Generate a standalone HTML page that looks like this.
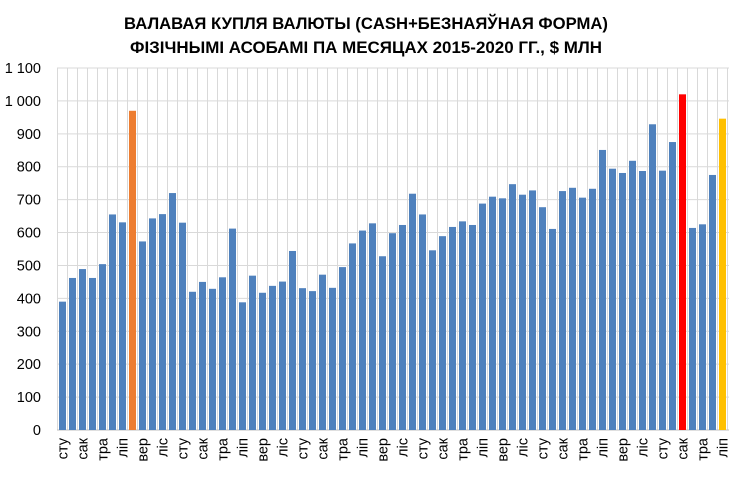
<!DOCTYPE html>
<html><head><meta charset="utf-8"><style>
html,body{margin:0;padding:0;background:#fff;}
svg{display:block;font-family:"Liberation Sans",sans-serif;}
</style></head><body>
<svg id="chart" width="732" height="477">
<text x="366" y="29" text-anchor="middle" font-weight="bold" font-size="17" textLength="484" lengthAdjust="spacingAndGlyphs">ВАЛАВАЯ КУПЛЯ ВАЛЮТЫ (CASH+БЕЗНАЯЎНАЯ ФОРМА)</text>
<text x="366" y="53" text-anchor="middle" font-weight="bold" font-size="17" textLength="472" lengthAdjust="spacingAndGlyphs">ФІЗІЧНЫМІ АСОБАМІ ПА МЕСЯЦАХ 2015-2020 ГГ., $ МЛН</text>
<g id="grid"></g><g id="bars"></g><g id="yticks"></g><g id="xticks"></g>
</svg>
<script>
const monthLabels = ["сту","лют","сак","кра","тра","чэр","ліп","жні","вер","кас","ліс","сне"];
const values = [390,462,489,462,504,655,631,970,573,643,656,720,
630,420,450,429,464,612,388,469,417,438,451,544,
431,422,472,432,495,567,606,628,528,598,623,718,
655,546,589,617,634,623,688,709,704,747,715,728,
677,611,726,736,706,733,851,794,781,818,787,929,
788,875,1020,614,625,775,946];
const highlight = {7:"#ed7d31",62:"#ff0000",66:"#ffc000"};
const yTicks = [0,100,200,300,400,500,600,700,800,900,1000,1100];
const yTickLabels = ["0","100","200","300","400","500","600","700","800","900","1 000","1 100"];

const NS="http://www.w3.org/2000/svg";
const x0=59, slot=10, y0=430, yTop=68, yMax=1100;
const yScale=v=>y0-(v/yMax)*(y0-yTop);
const xScale=i=>x0+i*slot;
function mk(tag,attrs,parent){const e=document.createElementNS(NS,tag);for(const k in attrs)e.setAttribute(k,attrs[k]);parent.appendChild(e);return e;}
const grid=document.getElementById('grid'),bars=document.getElementById('bars'),yt=document.getElementById('yticks'),xt=document.getElementById('xticks');
yTicks.forEach((t,i)=>{
  const l=mk('line',{x1:57,x2:729,y1:yScale(t),y2:yScale(t),stroke:'#d9d9d9','stroke-width':1},grid);
  
  
  const tx=mk('text',{x:41,y:yScale(t)+5,'text-anchor':'end','font-size':14.5,fill:'#000'},yt);
  tx.textContent=yTickLabels[i];
  
  
});
for(let i=0;i<=values.length;i++){
  const l=mk('line',{x1:xScale(i)-1.5,x2:xScale(i)-1.5,y1:yTop,y2:y0,stroke:'#d9d9d9','stroke-width':1},grid);
  
  
}
values.forEach((v,i)=>{
  const r=mk('rect',{x:xScale(i),y:yScale(v),width:7,height:y0-yScale(v),fill:highlight[i]||'#4f81bd'},bars);
  
  
  if(i%2===0){
    const cx=xScale(i)+3.5+5;
    const tx=mk('text',{x:cx,y:438,transform:`rotate(-90 ${cx} 438)`,'text-anchor':'end','font-size':14.5,fill:'#000'},xt);
    tx.textContent=monthLabels[i%12];
    
    
  }
});
const ax=mk('line',{x1:57,x2:729,y1:y0,y2:y0,stroke:'#bfbfbf','stroke-width':1},grid);


</script>
</body></html>
